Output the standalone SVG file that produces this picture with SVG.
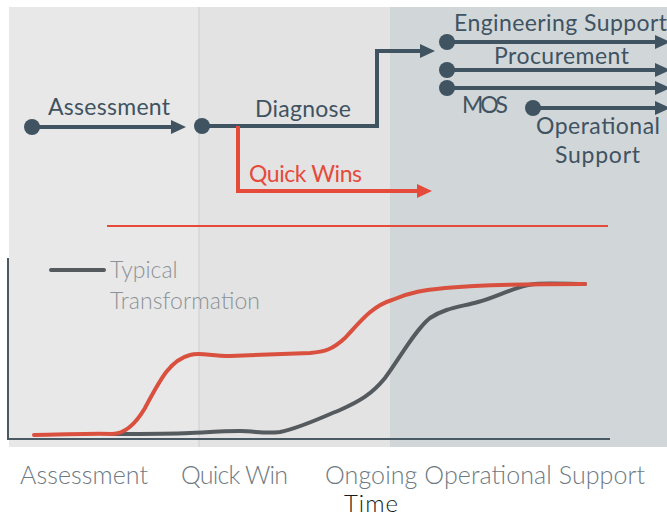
<svg xmlns="http://www.w3.org/2000/svg" width="667" height="516" viewBox="0 0 667 516">
<style>
.lbl{font-family:Lato,"Open Sans",sans-serif;fill:#3f5361;font-size:23px}
.red{fill:#e64a3b}
.ax{font-family:Lato,"Open Sans",sans-serif;fill:#6e7a82;font-size:25px;font-weight:300}
.lg{font-family:Lato,"Open Sans",sans-serif;fill:#8c9296;font-size:23px;font-weight:300}
.ln{fill:none;stroke:#3f5361;stroke-width:4}
.rl{fill:none;stroke:#e64a3b;stroke-width:4}
</style>
<defs>
<marker id="ah" viewBox="0 0 15 14" refX="0" refY="7" markerWidth="15" markerHeight="14" markerUnits="userSpaceOnUse" orient="auto"><path d="M0,0 L15,7 L0,14 Z" fill="#3f5361"/></marker>
<marker id="ahr" viewBox="0 0 15 14" refX="0" refY="7" markerWidth="15" markerHeight="14" markerUnits="userSpaceOnUse" orient="auto"><path d="M0,0 L15,7 L0,14 Z" fill="#e64a3b"/></marker>
</defs>
<rect width="667" height="516" fill="#ffffff"/>
<g id="background">
<rect x="9" y="7" width="190" height="440" fill="#e8e8e8"/>
<rect x="199" y="7" width="191" height="440" fill="#e3e3e3"/>
<rect x="390" y="7" width="277" height="440" fill="#d1d6d9"/>
<line x1="199" y1="7" x2="199" y2="447" stroke="#cfcfcf" stroke-width="1"/>
</g>
<g id="connectors">
<line class="ln" x1="32" y1="127" x2="171" y2="127" marker-end="url(#ah)"/>
<path class="ln" d="M202,126 H377 V51 H420" marker-end="url(#ah)"/>
<path class="rl" d="M238,126 V191 H417" marker-end="url(#ahr)"/>
<line class="ln" x1="447" y1="42" x2="655" y2="42" marker-end="url(#ah)"/>
<line class="ln" x1="447" y1="70" x2="655" y2="70" marker-end="url(#ah)"/>
<line class="ln" x1="447" y1="88" x2="655" y2="88" marker-end="url(#ah)"/>
<line class="ln" x1="533" y1="108" x2="655" y2="108" marker-end="url(#ah)"/>
</g>
<g id="assessment">
<circle cx="32" cy="127" r="8" fill="#3f5361"/>
<text class="lbl" x="48" y="115" textLength="122">Assessment</text>
</g>
<g id="diagnose">
<circle cx="202" cy="126" r="8" fill="#3f5361"/>
<text class="lbl" x="255" y="117" textLength="96">Diagnose</text>
</g>
<g id="quickwins">
<text class="lbl red" x="249" y="182" textLength="113">Quick Wins</text>
</g>
<g id="engineering">
<circle cx="447" cy="42" r="8" fill="#3f5361"/>
<text class="lbl" x="454" y="31" textLength="213">Engineering Support</text>
</g>
<g id="procurement">
<circle cx="447" cy="70" r="8" fill="#3f5361"/>
<text class="lbl" x="494" y="64" textLength="135">Procurement</text>
</g>
<g id="mos">
<circle cx="447" cy="88" r="8" fill="#3f5361"/>
<text class="lbl" x="462" y="113" textLength="46">MOS</text>
</g>
<g id="operational">
<circle cx="533" cy="108" r="8" fill="#3f5361"/>
<text class="lbl" x="536" y="134" textLength="124">Operational</text>
<text class="lbl" x="555" y="163" textLength="85">Support</text>
</g>
<g id="chart">
<line x1="107" y1="226" x2="608" y2="226" stroke="#e64a3b" stroke-width="2"/>
<path d="M8,258 V439 H610" fill="none" stroke="#4a5a64" stroke-width="2"/>
<line x1="51" y1="270" x2="104" y2="270" stroke="#555a5e" stroke-width="4" stroke-linecap="round"/>
<text class="lg" x="110" y="278">Typical</text>
<text class="lg" x="110" y="309" textLength="150">Transformation</text>
<path d="M112,434 C140,434 170,434 190,433 C210,432 225,431 240,431 C255,431 265,434 280,432 C300,428 320,418 340,410 C360,401 372,394 385,378 C400,358 415,330 430,318 C445,308 460,307 478,302 C500,296 515,286 535,284 C550,283 570,284 585,284" fill="none" stroke="#555a5e" stroke-width="4" stroke-linecap="round"/>
<path d="M34,435 C60,435 90,433 112,434 C125,434 135,425 145,408 C160,380 170,360 190,355 C200,352 210,356 230,356 C260,355 290,354 310,353 C325,352 333,349 345,338 C360,322 372,306 392,300 C410,292 425,290 445,288 C480,285 530,284 585,284" fill="none" stroke="#d9503f" stroke-width="4" stroke-linecap="round"/>
<text class="ax" x="20" y="484" textLength="128">Assessment</text>
<text class="ax" x="181" y="484" textLength="107">Quick Win</text>
<text class="ax" x="325" y="484" textLength="320">Ongoing Operational Support</text>
<text class="ax" x="344" y="512" style="fill:#1a1a1a;font-size:24px" textLength="54">Time</text>
</g>
</svg>
